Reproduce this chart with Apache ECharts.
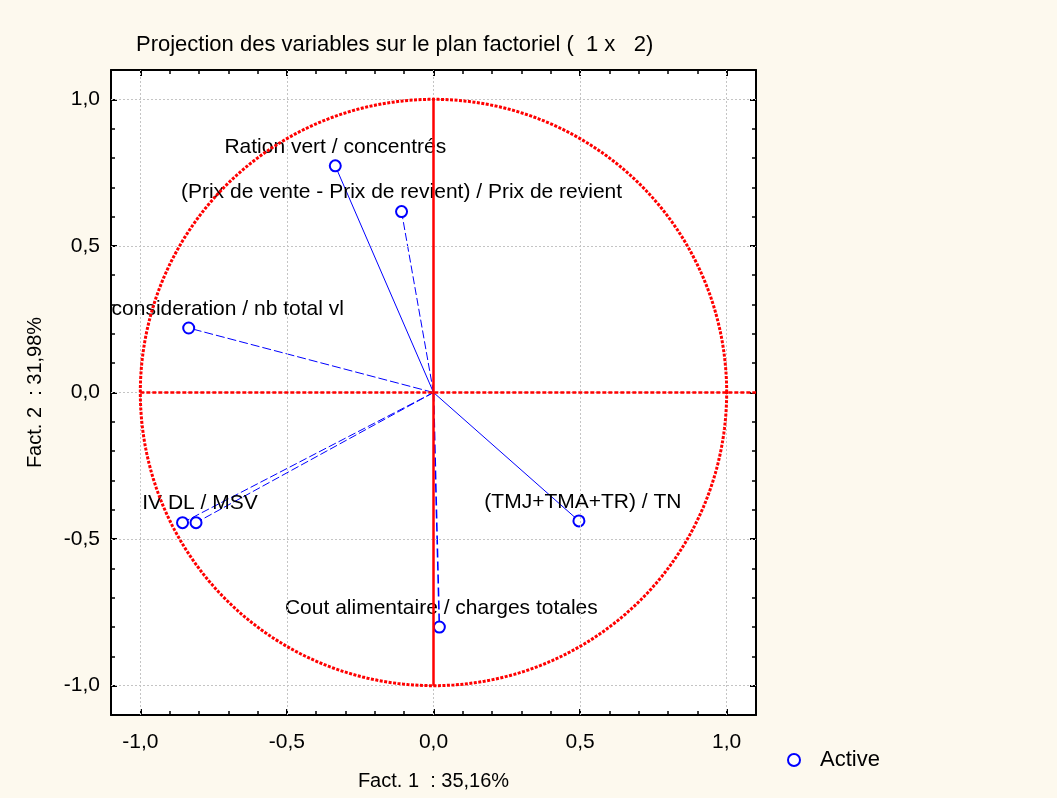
<!DOCTYPE html>
<html>
<head>
<meta charset="utf-8">
<script src="https://cdn.jsdelivr.net/npm/echarts@6/dist/echarts.min.js"></script>
<style>
html,body{margin:0;padding:0;background:#fdf9ee;}
#c{width:1057px;height:798px;}
</style>
</head>
<body>
<div id="c"></div>
<script>
// ---- data ----
const variableLabels = [
  'Ration vert / concentrés',
  '(Prix de vente - Prix de revient) / Prix de revient',
  'consideration / nb total vl',
  '',
  'IV DL / MSV',
  '(TMJ+TMA+TR) / TN',
  'Cout alimentaire / charges totales'
];
const fact1 = [-0.335, -0.109, -0.835, -0.856, -0.810, 0.496, 0.020];
const fact2 = [0.773, 0.617, 0.220, -0.444, -0.444, -0.438, -0.800];
const gridValues = [-1, -0.5, 0, 0.5, 1];
const axisMin = -1.1, axisMax = 1.1, tickStep = 0.1;
const circleRadius = 1;
const verticalRef = [[0, -1], [0, 1]];
const horizontalRef = [[-1, 0], [1.1, 0]];
const titleText = 'Projection des variables sur le plan factoriel (  1 x   2)';
const xName = 'Fact. 1  : 35,16%';
const yName = 'Fact. 2  : 31,98%';
const seriesName = 'Active';

// ---- styles (kept apart from data) ----
const vectorDash = ['solid', [8, 3], [9, 3], [8, 3], [8, 3], 'solid', [9, 4]];
const vectorWidth = [1, 1, 1, 1, 1, 1, 1.6];
const labelShiftX = [0, 0, 39, 0, 4, 4, 2];

const FONT = "'Liberation Sans', Arial, sans-serif";
const TXT = '#000000';

function tickFmt(v) {
  const r = Math.round(v * 10);
  if (r % 5 !== 0) return '';
  return (r / 10).toFixed(1).replace('.', ',');
}

function makeAxis(position, isX, showLabel) {
  const ax = {
    type: 'value',
    min: axisMin, max: axisMax, interval: tickStep,
    position: position,
    axisLine: { show: true, onZero: false, lineStyle: { color: '#000', width: 2 } },
    axisTick: { show: true, inside: true, length: 4, lineStyle: { color: '#000', width: 1.5 } },
    axisLabel: {
      show: showLabel, formatter: tickFmt, margin: isX ? 17 : 11,
      fontSize: 21, color: TXT, fontFamily: FONT
    },
    splitLine: { show: false }
  };
  if (showLabel) {
    ax.name = isX ? xName : yName;
    ax.nameLocation = 'middle';
    ax.nameGap = isX ? 56 : 66;
    ax.nameTextStyle = { fontSize: 20, color: TXT, fontFamily: FONT };
  }
  return ax;
}
// extra axes carrying only the longer major ticks
function makeMajorTickAxis(position) {
  return {
    type: 'value', min: axisMin, max: axisMax, position: position,
    axisLine: { show: false, onZero: false },
    axisTick: { show: true, inside: true, length: 6, customValues: gridValues,
                lineStyle: { color: '#000', width: 2 } },
    axisLabel: { show: false },
    splitLine: { show: false }
  };
}

const circlePts = [];
for (let k = 0; k <= 360; k++) {
  const a = k * Math.PI / 180;
  circlePts.push([circleRadius * Math.cos(a), circleRadius * Math.sin(a)]);
}

const series = [];
// grid lines
series.push({
  type: 'line', data: [], silent: true, z: 1,
  markLine: {
    silent: true, symbol: ['none', 'none'], label: { show: false },
    lineStyle: { color: '#c4c4c4', type: [2, 2], width: 1 },
    data: gridValues.map(v => ({ xAxis: v })).concat(gridValues.map(v => ({ yAxis: v })))
  }
});
// vectors
fact1.forEach((x, i) => {
  series.push({
    type: 'line', silent: true, z: 3, showSymbol: false,
    data: [[0, 0], [x, fact2[i]]],
    lineStyle: { color: '#0000ff', width: vectorWidth[i], type: vectorDash[i] }
  });
});
// markers and labels
series.push({
  name: seriesName, type: 'scatter', z: 4,
  symbol: 'emptyCircle', symbolSize: 11,
  itemStyle: { color: '#0000ff', borderWidth: 2, opacity: 1 },
  label: {
    show: true, position: 'top', distance: 2, formatter: '{b}',
    fontSize: 21, color: TXT, fontFamily: FONT, opacity: 1
  },
  emphasis: { disabled: true },
  data: fact1.map((x, i) => ({
    name: variableLabels[i], value: [x, fact2[i]],
    label: { offset: [labelShiftX[i], 0] }
  }))
});
// correlation circle
series.push({
  type: 'line', silent: true, z: 6, showSymbol: false, data: circlePts,
  lineStyle: { color: '#ff0000', width: 3, type: [3, 1.5] }
});
series.push({
  type: 'line', silent: true, z: 6, showSymbol: false, data: horizontalRef,
  lineStyle: { color: '#ff0000', width: 2.5, type: [4, 2] }
});
series.push({
  type: 'line', silent: true, z: 7, showSymbol: false, data: verticalRef,
  lineStyle: { color: '#ff0000', width: 2.5, type: 'solid' }
});

const chart = echarts.init(document.getElementById('c'), null, { renderer: 'canvas' });
chart.setOption({
  animation: false,
  backgroundColor: '#fdf9ee',
  title: {
    text: titleText, left: 131, top: 29,
    textStyle: { fontSize: 22, fontWeight: 'normal', color: TXT, fontFamily: FONT }
  },
  legend: {
    data: [seriesName], left: 782, top: 744,
    itemWidth: 12, itemHeight: 12,
    textStyle: { fontSize: 22, color: TXT, fontFamily: FONT, padding: [0, 0, 0, 15] }
  },
  grid: {
    left: 111, right: 301, top: 70, bottom: 83,
    show: true, backgroundColor: '#ffffff', borderWidth: 0
  },
  xAxis: [makeAxis('bottom', true, true), makeAxis('top', true, false),
          makeMajorTickAxis('bottom'), makeMajorTickAxis('top')],
  yAxis: [makeAxis('left', false, true), makeAxis('right', false, false),
          makeMajorTickAxis('left'), makeMajorTickAxis('right')],
  series: series
});
</script>
</body>
</html>
